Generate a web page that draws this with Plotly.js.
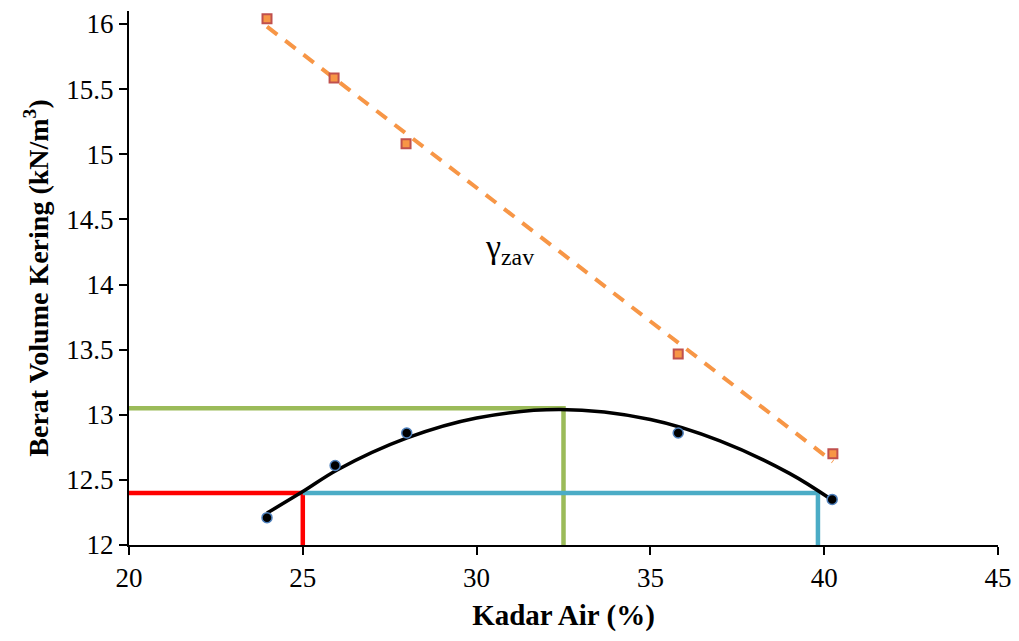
<!DOCTYPE html>
<html>
<head>
<meta charset="utf-8">
<script src="https://cdn.plot.ly/plotly-3.0.1.min.js"></script>
<style>html,body{margin:0;padding:0;background:#fff}#chart{width:1019px;height:641px}</style>
</head>
<body>
<div id="chart"></div>
<script>
// Measured points
const moistX = [23.97, 25.93, 27.99, 35.8, 40.23];
const dryDensity = [12.21, 12.61, 12.86, 12.86, 12.35];
const zavX = [23.97, 25.9, 27.97, 35.8, 40.25];
const zavY = [16.04, 15.585, 15.08, 13.466, 12.70];
// Trend line of ZAV (endpoints)
const zavTrendX = [23.97, 40.25];
const zavTrendY = [15.98, 12.64];
// Fitted compaction curve
const curveX = [23.97, 25, 26, 28, 30, 32.4, 35, 37, 39, 40.23];
const curveY = [12.245, 12.41, 12.578, 12.822, 12.975, 13.04, 12.964, 12.80, 12.55, 12.345];
// Reference lines
const optMoisture = 32.5, maxDensity = 13.05;
const limitDensity = 12.4, lowMoisture = 25, highMoisture = 39.82;
const xTicks = [20, 25, 30, 35, 40, 45];
const yTicks = [12, 12.5, 13, 13.5, 14, 14.5, 15, 15.5, 16];

const traces = [
  {x:[20, optMoisture, optMoisture], y:[maxDensity, maxDensity, 12], mode:'lines', line:{color:'#9BBB59', width:4.5}, hoverinfo:'skip'},
  {x:[20, lowMoisture, lowMoisture], y:[limitDensity, limitDensity, 12], mode:'lines', line:{color:'#FF0000', width:4.5}, hoverinfo:'skip'},
  {x:[lowMoisture, highMoisture, highMoisture], y:[limitDensity, limitDensity, 12], mode:'lines', line:{color:'#4BACC6', width:4.5}, hoverinfo:'skip'},
  {x:zavTrendX, y:zavTrendY, mode:'lines', line:{color:'#F79646', width:4, dash:'13px,10px'}},
  {x:curveX, y:curveY, mode:'lines', line:{color:'#000', width:3.5, shape:'spline', smoothing:1}},
  {x:moistX, y:dryDensity, mode:'markers', cliponaxis:false, marker:{symbol:'circle', size:10, color:'#000', line:{color:'#4F81BD', width:1.5}}},
  {x:zavX, y:zavY, mode:'markers', cliponaxis:false, marker:{symbol:'square', size:9, color:'#F79646', line:{color:'#C0504D', width:2}}}
];

const font = "'Liberation Serif', 'Times New Roman', serif";
const layout = {
  width:1019, height:641,
  margin:{l:129, r:21, t:11, b:96},
  paper_bgcolor:'#fff', plot_bgcolor:'#fff',
  showlegend:false,
  font:{family:font, color:'#000'},
  xaxis:{range:[20,45], tickvals:xTicks, ticktext:xTicks.map(String), showgrid:false, zeroline:false,
    showline:true, linecolor:'#000', linewidth:2, ticks:'outside', ticklen:8, tickwidth:2, tickcolor:'#000',
    tickfont:{family:font, size:27},
    title:{text:'<b>Kadar Air (%)</b>', font:{family:font, size:29}, standoff:12}},
  yaxis:{range:[12,16.1], tickvals:yTicks, ticktext:yTicks.map(String), showgrid:false, zeroline:false,
    showline:true, linecolor:'#000', linewidth:2, ticks:'outside', ticklen:8, tickwidth:2, tickcolor:'#000',
    tickfont:{family:font, size:27},
    title:{text:'<b>Berat Volume Kering (kN/m<sup>3</sup>)</b>', font:{family:font, size:28}, standoff:10}},
  annotations:[{x:30.95, y:14.27, xref:'x', yref:'y', text:'γ<sub>zav</sub>', showarrow:false,
    font:{family:font, size:34, color:'#000'}}]
};
Plotly.newPlot('chart', traces, layout, {displayModeBar:false, staticPlot:true});
</script>
</body>
</html>
